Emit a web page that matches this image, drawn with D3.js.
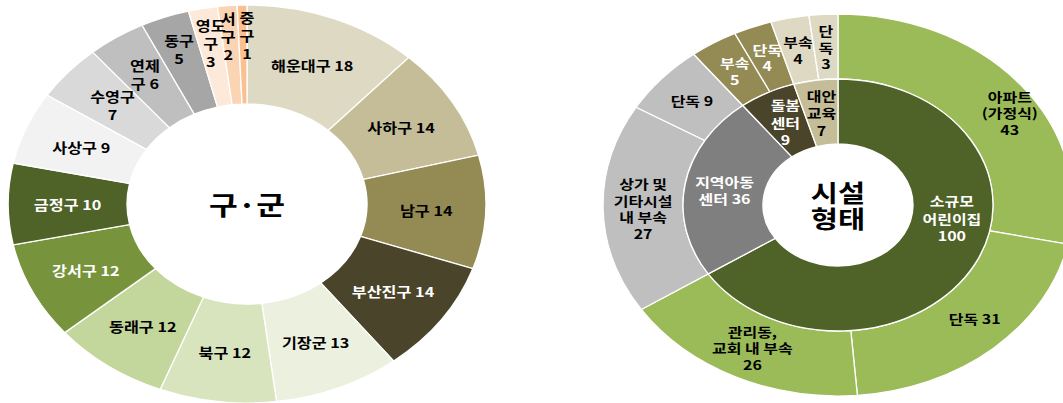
<!DOCTYPE html>
<html>
<head>
<meta charset="utf-8">
<script src="https://cdn.jsdelivr.net/npm/d3@7"></script>
<style>
  body { margin: 0; background: #fff; }
  text { font-family: "Noto Sans CJK KR", "Noto Sans", sans-serif; }
</style>
</head>
<body>
<svg id="chart" width="1063" height="403"></svg>
<script>
// ---- 구·군별 시설 수 ----
const districts = ["해운대구", "사하구", "남구", "부산진구", "기장군", "북구", "동래구", "강서구",
                   "금정구", "사상구", "수영구", "연제구", "동구", "영도구", "서구", "중구"];
const districtCounts = [18, 14, 14, 14, 13, 12, 12, 12, 10, 9, 7, 6, 5, 3, 2, 1];
const districtColors = ["#DDD9C3", "#C4BD97", "#948A54", "#4A452A", "#EBF1DE", "#D7E4BD", "#C3D69B", "#77933C",
                        "#4F6228", "#F2F2F2", "#D9D9D9", "#BFBFBF", "#A6A6A6", "#FDE9D9", "#FBD4B4", "#FAC090"];
const districtTextColors = ["#000", "#000", "#000", "#fff", "#000", "#000", "#000", "#fff",
                            "#fff", "#000", "#000", "#000", "#000", "#000", "#000", "#000"];
// label templates: "|" = line break, {v} = value
const districtLabels = ["해운대구 {v}", "사하구 {v}", "남구 {v}", "부산진구 {v}", "기장군 {v}", "북구 {v}", "동래구 {v}", "강서구 {v}",
                        "금정구 {v}", "사상구 {v}", "수영구|{v}", "연제|구 {v}", "동구|{v}", "영도|구|{v}", "서|구|{v}", "중|구|{v}"];

// ---- 시설 형태 (안쪽 고리) ----
const facilityTypes = ["소규모 어린이집", "지역아동센터", "돌봄센터", "대안교육"];
const facilityCounts = [100, 36, 9, 7];
const facilityColors = ["#4F6228", "#7F7F7F", "#4A452A", "#C4BD97"];
const facilityTextColors = ["#fff", "#fff", "#fff", "#000"];
const facilityLabels = ["소규모|어린이집|{v}", "지역아동|센터 {v}", "돌봄|센터|{v}", "대안|교육|{v}"];

// ---- 건물 형태 (바깥 고리) ----
const buildingTypes = ["아파트 (가정식)", "단독", "관리동, 교회 내 부속", "상가 및 기타시설 내 부속",
                       "단독", "부속", "단독", "부속", "단독"];
const buildingCounts = [43, 31, 26, 27, 9, 5, 4, 4, 3];
const buildingParent = [0, 0, 0, 1, 1, 2, 2, 3, 3];
const buildingColors = ["#9BBB59", "#BFBFBF", "#948A54", "#DDD9C3"];
const buildingTextColors = ["#000", "#000", "#fff", "#000"];
const buildingLabels = ["아파트|(가정식)|{v}", "단독 {v}", "관리동,|교회 내 부속|{v}", "상가 및|기타시설|내 부속|{v}",
                        "단독 {v}", "부속|{v}", "단독|{v}", "부속|{v}", "단|독|{v}"];

const svg = d3.select("#chart");
const pie = d3.pie().sort(null).value(d => d.value);

// Multi-line label at a given point (inside a horizontally scaled group)
function drawLabel(g, x, y, template, value, color, fontSize, lineH) {
  const lines = template.replace("{v}", value).split("|");
  const t = g.append("text")
    .attr("x", x).attr("y", y)
    .attr("text-anchor", "middle")
    .attr("font-size", fontSize)
    .attr("font-weight", 700)
    .attr("fill", color);
  lines.forEach((ln, i) => {
    t.append("tspan")
      .attr("x", x)
      .attr("y", y + (i - (lines.length - 1) / 2) * lineH)
      .attr("dominant-baseline", "central")
      .text(ln);
  });
}

function ring(g, data, r0, r1, opts) {
  const arc = d3.arc().innerRadius(r0).outerRadius(r1);
  const arcs = pie(data);
  g.selectAll(null).data(arcs).enter().append("path")
    .attr("d", arc)
    .attr("fill", d => d.data.fill)
    .attr("stroke", "#fff")
    .attr("stroke-width", 1.3)
    .attr("vector-effect", "non-scaling-stroke");
  arcs.forEach((d, i) => {
    const nudge = (opts.nudge && opts.nudge[i]) || {};
    const a = nudge.angle !== undefined ? nudge.angle * Math.PI / 180 : (d.startAngle + d.endAngle) / 2;
    const r = (r0 + r1) / 2 + (nudge.dr || 0);
    drawLabel(g, r * Math.sin(a), -r * Math.cos(a), d.data.label, d.data.value,
              d.data.text, opts.fontSize, opts.lineH);
  });
}

// ---------- left donut: 구·군 ----------
{
  const cx = 247, cy = 204, sx = 1.2;
  const g = svg.append("g").attr("transform", `translate(${cx},${cy}) scale(${sx},1)`);
  const data = districts.map((n, i) => ({
    name: n, value: districtCounts[i], fill: districtColors[i],
    text: districtTextColors[i], label: districtLabels[i]
  }));
  ring(g, data, 100, 199, {
    fontSize: 13.5, lineH: 18,
    nudge: { 11: { dr: 6 }, 12: { dr: 15 }, 13: { dr: 14 },
             14: { angle: -5.3, dr: 19 }, 15: { angle: 0, dr: 19 } }
  });
  g.append("text")
    .attr("x", 0).attr("y", 0)
    .attr("text-anchor", "middle")
    .attr("dominant-baseline", "central")
    .attr("font-size", 26).attr("font-weight", 700)
    .attr("fill", "#000")
    .text("구·군");
}

// ---------- right donut: 시설 형태 ----------
{
  const cx = 838, cy = 205, sx = 1.23;
  const g = svg.append("g").attr("transform", `translate(${cx},${cy}) scale(${sx},1)`);
  const inner = facilityTypes.map((n, i) => ({
    name: n, value: facilityCounts[i], fill: facilityColors[i],
    text: facilityTextColors[i], label: facilityLabels[i]
  }));
  const outer = buildingTypes.map((n, i) => ({
    name: n, value: buildingCounts[i], fill: buildingColors[buildingParent[i]],
    text: buildingTextColors[buildingParent[i]], label: buildingLabels[i]
  }));
  ring(g, outer, 126, 191, { fontSize: 13, lineH: 16.5,
    nudge: { 0: { angle: 56.5, dr: 9 }, 1: { angle: 135.5 } } });
  ring(g, inner, 61, 126, { fontSize: 13, lineH: 17.5, nudge: { 0: { angle: 98, dr: 0 } } });
  const t = g.append("text")
    .attr("text-anchor", "middle")
    .attr("font-size", 24).attr("font-weight", 700)
    .attr("fill", "#000");
  ["시설", "형태"].forEach((ln, i) => {
    t.append("tspan").attr("x", 0).attr("y", (i - 0.5) * 26)
      .attr("dominant-baseline", "central").text(ln);
  });
}
</script>
</body>
</html>
